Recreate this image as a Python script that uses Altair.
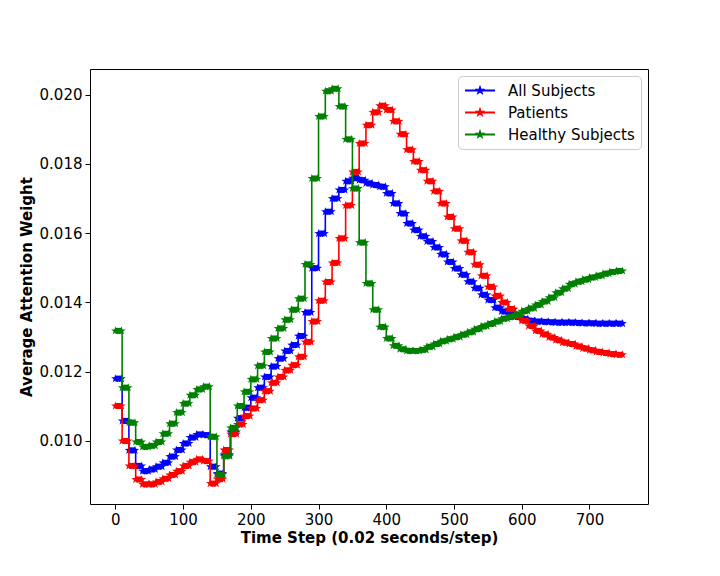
import altair as alt
import pandas as pd

# ---- data: block-averaged attention weight, one value per 10-step block ----
BLOCK_START = list(range(0, 750, 10))
SERIES = ["All Subjects", "Patients", "Healthy Subjects"]
COLORS = ["blue", "red", "green"]

ALL_SUBJECTS = [
    0.01180, 0.01058, 0.00973, 0.00928, 0.00913, 0.00918, 0.00926, 0.00937, 0.00955, 0.00974,
    0.00993, 0.01010, 0.01019, 0.01017, 0.00926, 0.00906, 0.00960, 0.01026, 0.01066, 0.01096,
    0.01125, 0.01154, 0.01185, 0.01215, 0.01238, 0.01260, 0.01277, 0.01303, 0.01371, 0.01499,
    0.01599, 0.01662, 0.01700, 0.01725, 0.01750, 0.01759, 0.01753, 0.01744, 0.01739, 0.01734,
    0.01715, 0.01686, 0.01657, 0.01628, 0.01609, 0.01591, 0.01576, 0.01559, 0.01539, 0.01517,
    0.01498, 0.01480, 0.01460, 0.01441, 0.01422, 0.01407, 0.01385, 0.01374, 0.01366, 0.01358,
    0.01352, 0.01347, 0.01345, 0.01344, 0.01343, 0.01342, 0.01342, 0.01342, 0.01341, 0.01340,
    0.01340, 0.01339, 0.01339, 0.01339, 0.01339,
]
PATIENTS = [
    0.01101, 0.01000, 0.00928, 0.00889, 0.00875, 0.00875, 0.00882, 0.00891, 0.00902, 0.00913,
    0.00928, 0.00939, 0.00947, 0.00942, 0.00877, 0.00890, 0.00974, 0.01020, 0.01048, 0.01072,
    0.01094, 0.01118, 0.01144, 0.01168, 0.01185, 0.01204, 0.01219, 0.01243, 0.01286, 0.01345,
    0.01405, 0.01459, 0.01514, 0.01585, 0.01680, 0.01777, 0.01859, 0.01912, 0.01949, 0.01968,
    0.01956, 0.01923, 0.01886, 0.01841, 0.01807, 0.01782, 0.01750, 0.01721, 0.01686, 0.01647,
    0.01613, 0.01578, 0.01545, 0.01509, 0.01477, 0.01445, 0.01419, 0.01400, 0.01381, 0.01361,
    0.01347, 0.01332, 0.01318, 0.01308, 0.01299, 0.01291, 0.01284, 0.01280, 0.01273, 0.01267,
    0.01262, 0.01257, 0.01254, 0.01251, 0.01249,
]
HEALTHY = [
    0.01318, 0.01154, 0.01053, 0.00997, 0.00983, 0.00986, 0.00997, 0.01021, 0.01050, 0.01082,
    0.01108, 0.01132, 0.01149, 0.01157, 0.01012, 0.00903, 0.00956, 0.01038, 0.01101, 0.01142,
    0.01178, 0.01217, 0.01257, 0.01296, 0.01325, 0.01350, 0.01379, 0.01411, 0.01510, 0.01758,
    0.01937, 0.02010, 0.02017, 0.01966, 0.01871, 0.01729, 0.01573, 0.01455, 0.01379, 0.01329,
    0.01296, 0.01275, 0.01265, 0.01260, 0.01260, 0.01263, 0.01272, 0.01280, 0.01288, 0.01294,
    0.01300, 0.01307, 0.01314, 0.01323, 0.01331, 0.01338, 0.01345, 0.01353, 0.01358, 0.01366,
    0.01375, 0.01383, 0.01393, 0.01403, 0.01414, 0.01428, 0.01440, 0.01453, 0.01460, 0.01466,
    0.01472, 0.01477, 0.01483, 0.01488, 0.01491,
]
VALUES = [ALL_SUBJECTS, PATIENTS, HEALTHY]
BLOCK_LEN = 10
X_TICKS = [0, 100, 200, 300, 400, 500, 600, 700]
Y_TICKS = [0.010, 0.012, 0.014, 0.016, 0.018, 0.020]

FONT = "DejaVu Sans"
color_scale = alt.Scale(domain=SERIES, range=COLORS)
x_scale = alt.Scale(domain=[-37.45, 786.45], nice=False, zero=False)
y_scale = alt.Scale(domain=[0.00818, 0.02074], nice=False, zero=False)

STAR = ("M0,-1L0.235,-0.324L0.951,-0.309L0.38,0.124L0.588,0.809L0,0.4"
        "L-0.588,0.809L-0.38,0.124L-0.951,-0.309L-0.235,-0.324Z")
STAR_LEGEND = ("M1,-0.35L1.082,-0.113L1.333,-0.108L1.133,0.043L1.206,0.283L1,0.14"
               "L0.794,0.283L0.867,0.043L0.667,-0.108L0.918,-0.113ZM-1,0H3")

x_axis = alt.Axis(values=X_TICKS, title="Time Step (0.02 seconds/step)", grid=False,
                  domain=False, tickSize=5, tickColor="black", labelColor="black",
                  labelFontSize=15, labelFont=FONT, labelPadding=3,
                  titleFontSize=15, titleFont=FONT, titleFontWeight="bold",
                  titleColor="black", titlePadding=3, labelFlush=False)
y_axis = alt.Axis(values=Y_TICKS, format=".3f", title="Average Attention Weight",
                  grid=False, domain=False, tickSize=5, tickColor="black",
                  labelColor="black", labelFontSize=15, labelFont=FONT, labelPadding=3,
                  titleFontSize=15, titleFont=FONT, titleFontWeight="bold",
                  titleColor="black", titlePadding=5, labelFlush=False)

legend = alt.Legend(symbolType=STAR_LEGEND, orient="top-right", offset=7, padding=6,
                    strokeColor="#cccccc", cornerRadius=4, fillColor="white",
                    labelFontSize=15, labelFont=FONT, labelColor="black",
                    symbolSize=225, symbolStrokeWidth=2, rowPadding=5, labelOffset=27,
                    symbolOpacity=1, title=None)

layers = []
for name, vals in zip(SERIES, VALUES):
    blocks = pd.DataFrame({
        "series": name,
        "start": BLOCK_START,
        "end": [s + BLOCK_LEN - 1 for s in BLOCK_START],
        "value": vals,
    })
    line_df = pd.DataFrame({
        "series": name,
        "step": BLOCK_START + [BLOCK_START[-1] + BLOCK_LEN - 1],
        "value": vals + [vals[-1]],
    })
    line = alt.Chart(line_df).mark_line(interpolate="step-after", strokeWidth=1.6).encode(
        x=alt.X("step:Q", scale=x_scale, axis=x_axis),
        y=alt.Y("value:Q", scale=y_scale, axis=y_axis),
        color=alt.Color("series:N", scale=color_scale, legend=legend),
    )
    band = alt.Chart(blocks).mark_rule(strokeWidth=6).encode(
        x=alt.X("start:Q", scale=x_scale),
        x2="end:Q",
        y=alt.Y("value:Q", scale=y_scale),
        color=alt.Color("series:N", scale=color_scale, legend=None),
    )
    pts_a = alt.Chart(blocks).mark_point(shape=STAR, filled=True, size=80, opacity=1).encode(
        x=alt.X("start:Q", scale=x_scale),
        y=alt.Y("value:Q", scale=y_scale),
        color=alt.Color("series:N", scale=color_scale, legend=None),
    )
    pts_b = alt.Chart(blocks).mark_point(shape=STAR, filled=True, size=80, opacity=1).encode(
        x=alt.X("end:Q", scale=x_scale),
        y=alt.Y("value:Q", scale=y_scale),
        color=alt.Color("series:N", scale=color_scale, legend=None),
    )
    layers += [line, band, pts_a, pts_b]

chart = alt.layer(*layers).properties(
    width=558, height=435,
    autosize=alt.AutoSizeParams(type="none"),
    padding={"left": 82, "top": 61, "right": 64, "bottom": 64},
    background="white",
).configure(
    font=FONT,
).configure_view(
    stroke="black", strokeWidth=1,
)

chart.save("out.html", embed_options={"renderer": "svg", "actions": False})
